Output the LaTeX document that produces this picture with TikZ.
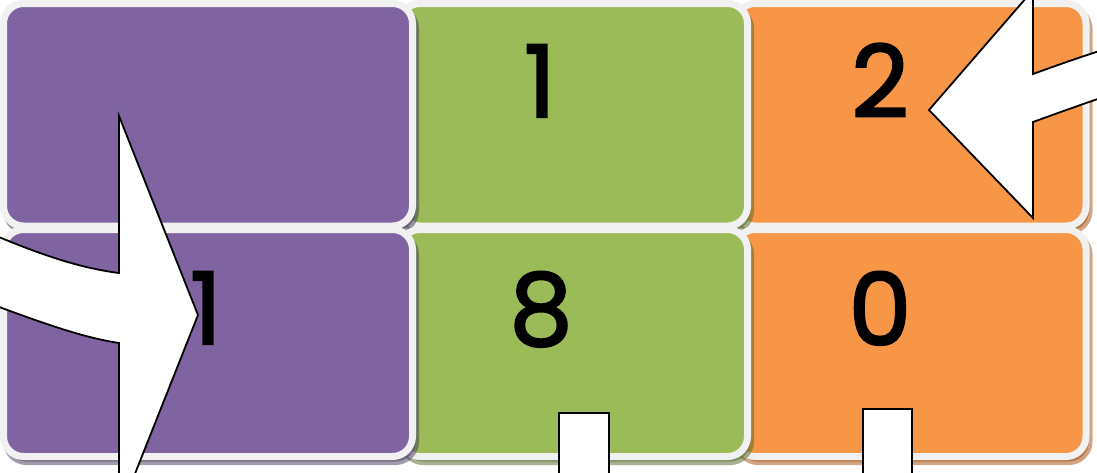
\documentclass[tikz,border=0pt]{standalone}
\usepackage{fontspec}
\setmainfont{Poppins}
\newfontfamily\digfont{Poppins}[FakeBold=2.2]
\definecolor{cPur}{HTML}{8064A2}
\definecolor{cGre}{HTML}{9BBB59}
\definecolor{cOra}{HTML}{F79646}
\definecolor{bord}{HTML}{F1F1F1}
\definecolor{shPur}{HTML}{45395B}
\definecolor{shGre}{HTML}{536729}
\definecolor{shOra}{HTML}{A54D0B}
\tikzset{
  cell/.style 2 args={rectangle, rounded corners=20pt, line width=7pt, draw=bord,
    minimum width=#1, minimum height=#2, inner sep=0pt, outer sep=0pt},
  shade/.style={draw=#1, fill=#1, opacity=0.5},
  digit/.style={anchor=base, inner sep=0pt, font=\digfont\fontsize{100}{100}\selectfont},
  blockarrow/.style={fill=white, draw=black, line width=1.8pt, line join=miter},
  stub/.style={fill=white, draw=black, line width=1.5pt}
}
\begin{document}
\begin{tikzpicture}[x=1pt, y=-1pt]
\useasboundingbox (0,0) rectangle (1097,472);
\clip (0,0) rectangle (1097,472);
\fill[white] (0,0) rectangle (1097,472);
% top row
\node[cell={351pt}{222.5pt}, shade=shOra] (s3) at (913.5,119.75) {};
\node[cell={351pt}{222.5pt}, fill=cOra] (b3) at (910.5,114.75) {};
\node[cell={347.5pt}{222.5pt}, shade=shGre] (s2) at (576.75,119.75) {};
\node[cell={347.5pt}{222.5pt}, fill=cGre] (b2) at (573.75,114.75) {};
\node[cell={409pt}{222.5pt}, shade=shPur] (s1) at (211,119.75) {};
\node[cell={409pt}{222.5pt}, fill=cPur] (b1) at (208,114.75) {};
% bottom row
\node[cell={351pt}{227pt}, shade=shOra] (s6) at (913.5,348) {};
\node[cell={351pt}{227pt}, fill=cOra] (b6) at (910.5,343) {};
\node[cell={347.5pt}{227pt}, shade=shGre] (s5) at (576.75,348) {};
\node[cell={347.5pt}{227pt}, fill=cGre] (b5) at (573.75,343) {};
\node[cell={409pt}{227pt}, shade=shPur] (s4) at (211,348) {};
\node[cell={409pt}{227pt}, fill=cPur] (b4) at (208,343) {};
% digits
\node[digit] (d2) at (540,117) {1};
\node[digit] (d3) at (880,117) {2};
\node[digit] (d4) at (206,344) {1};
\node[digit] (d5) at (541,345) {8};
\node[digit] (d6) at (880,345) {0};
% left curved arrow
\coordinate (lt) at (198,315);
\draw[blockarrow] (-20,229) .. controls (40,255) and (80,268) .. (119,273)
  -- (119,116) -- (lt) -- (119,514) -- (119,343)
  .. controls (80,337) and (40,322) .. (-20,300) -- cycle;
% right curved arrow
\coordinate (rt) at (929,110);
\draw[blockarrow] (1115,46) .. controls (1080,57) and (1055,66) .. (1033,74)
  -- (1033,-10) -- (rt) -- (1033,218) -- (1033,122)
  .. controls (1055,114) and (1080,105) .. (1115,93) -- cycle;
% stubs
\node[stub, minimum width=50pt, minimum height=80pt, anchor=north] (st1) at (584,412) {};
\node[stub, minimum width=49pt, minimum height=80pt, anchor=north] (st2) at (887.5,408) {};
\end{tikzpicture}
\end{document}
